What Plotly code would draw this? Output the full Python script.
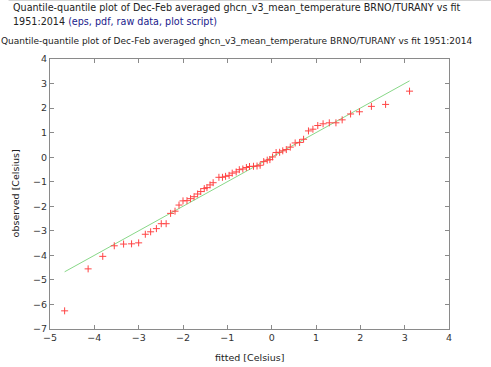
import plotly.graph_objects as go

fitted = [-4.67, -4.14, -3.81, -3.55, -3.34, -3.16, -3.00, -2.85, -2.73, -2.60,
          -2.49, -2.38, -2.28, -2.18, -2.09, -2.00, -1.91, -1.83, -1.75, -1.67,
          -1.60, -1.52, -1.46, -1.39, -1.32, -1.19, -1.11, -1.04, -0.96, -0.89,
          -0.80, -0.73, -0.65, -0.57, -0.50, -0.41, -0.33, -0.26, -0.18, -0.10,
          -0.04, 0.02, 0.10, 0.18, 0.25, 0.33, 0.42, 0.53, 0.63, 0.72,
          0.83, 0.93, 1.04, 1.16, 1.30, 1.45, 1.59, 1.78, 1.98, 2.25,
          2.57, 3.11]
observed = [-6.26, -4.55, -4.04, -3.61, -3.54, -3.53, -3.49, -3.14, -3.04, -2.91,
            -2.71, -2.71, -2.29, -2.20, -1.95, -1.78, -1.77, -1.69, -1.61, -1.50,
            -1.40, -1.28, -1.24, -1.13, -1.04, -0.82, -0.82, -0.78, -0.74, -0.65,
            -0.60, -0.51, -0.48, -0.42, -0.38, -0.37, -0.36, -0.33, -0.18, -0.12,
            -0.10, 0.01, 0.19, 0.20, 0.26, 0.31, 0.41, 0.58, 0.60, 0.73,
            1.07, 1.14, 1.29, 1.36, 1.40, 1.40, 1.52, 1.76, 1.85, 2.07,
            2.15, 2.69]
line_x = [-4.67, 3.11]
line_y = [-4.67, 3.11]

W, H = 491, 367
L, R, T, B = 49.5, 449, 59.3, 329
pw, ph = R - L, B - T

def px(x):
    return (x - L) / pw

def py(y):
    return (B - y) / ph

fig = go.Figure()
fig.add_trace(go.Scatter(x=line_x, y=line_y, mode="lines",
                         line=dict(color="#88d888", width=1), hoverinfo="skip"))
fig.add_trace(go.Scatter(x=fitted, y=observed, mode="markers",
                         marker=dict(symbol="cross-thin", size=5,
                                     line=dict(color="#ff4545", width=1))))

font = "DejaVu Sans"
axis_common = dict(showgrid=False, zeroline=False, showline=True, linecolor="#8a8a8a",
                   linewidth=1, mirror="ticks", ticks="inside", ticklen=4,
                   tickcolor="#8a8a8a", dtick=1, automargin=False,
                   tickfont=dict(family=font, size=9.5, color="#333333"))
fig.update_xaxes(range=[-5, 4], tick0=-5, **axis_common)
fig.update_yaxes(range=[-7, 4], tick0=-7, **axis_common)

annos = [
    dict(text="Quantile-quantile plot of Dec-Feb averaged ghcn_v3_mean_temperature BRNO/TURANY vs fit",
         x=px(10), y=py(8), size=9.6, xanchor="left", textangle=0),
    dict(text="1951:2014 <span style='color:#1a1a8c'>(eps, pdf, raw data, plot script)</span>",
         x=px(10), y=py(22), size=9.6, xanchor="left", textangle=0),
    dict(text="Quantile-quantile plot of Dec-Feb averaged ghcn_v3_mean_temperature BRNO/TURANY vs fit 1951:2014",
         x=px(-2), y=py(41.5), size=9.0, xanchor="left", textangle=0),
    dict(text="fitted [Celsius]", x=px(249), y=py(357), size=9.5, xanchor="center", textangle=0),
    dict(text="observed [Celsius]", x=px(15), y=py(194), size=9.5, xanchor="center", textangle=-90),
]
for a in annos:
    size = a.pop("size")
    fig.add_annotation(xref="paper", yref="paper", yanchor="middle",
                       showarrow=False, font=dict(family=font, size=size, color="#222222"), **a)

fig.add_shape(type="line", xref="paper", yref="paper", x0=px(8), x1=px(491),
              y0=py(0.5), y1=py(0.5), line=dict(color="#bbbbbb", width=1))

fig.update_layout(width=W, height=H, showlegend=False,
                  margin=dict(l=L, r=W - R, t=T, b=H - B, autoexpand=False),
                  plot_bgcolor="white", paper_bgcolor="white")
fig.write_html("out.html", config={"displayModeBar": False},
               post_script="document.body.style.margin='0';document.body.style.overflow='hidden';")
